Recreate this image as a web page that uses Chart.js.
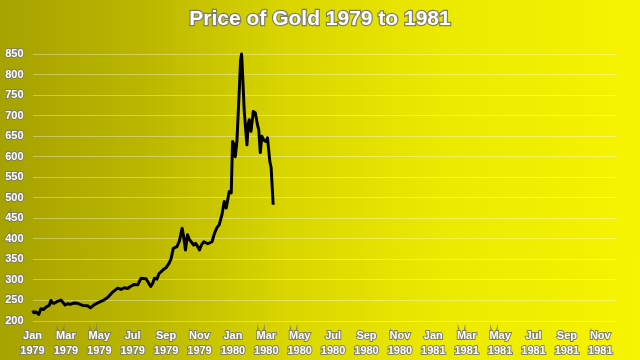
<!DOCTYPE html>
<html>
<head>
<meta charset="utf-8">
<script src="https://cdn.jsdelivr.net/npm/chart.js@4"></script>
<style>
  html, body { margin: 0; padding: 0; }
  body {
    width: 640px; height: 360px; overflow: hidden;
    background: linear-gradient(to right, #a6a200 0%, #bab600 22%, #d9d600 45%, #ebe900 68%, #f6f400 100%);
  }
  #wrap { position: relative; width: 640px; height: 360px; }
</style>
</head>
<body>
<div id="wrap"><canvas id="goldChart" width="640" height="360"></canvas></div>
<script>
// months since Jan 1979 (fractional) and price in USD/oz
var months = [0.0, 0.1, 0.2, 0.37, 0.5, 0.65, 0.85, 1.0, 1.1, 1.2, 1.3, 1.5, 1.7, 1.95, 2.1, 2.3, 2.5, 2.7, 3.0, 3.3, 3.47, 3.7, 4.0, 4.27, 4.5,
  4.76, 5.1, 5.3, 5.5, 5.7, 5.86, 6.1, 6.3, 6.5, 6.8, 7.08, 7.2, 7.3, 7.45, 7.57, 7.8, 8.0, 8.18, 8.3, 8.43, 8.65, 8.8, 8.96, 9.05, 9.16, 9.28, 9.4, 9.5, 9.65, 9.77, 9.9, 10.0,
  10.1, 10.26, 10.5, 10.75, 10.9, 11.05, 11.18, 11.35, 11.48, 11.6, 11.78, 11.9, 11.98, 12.06, 12.14, 12.24, 12.38, 12.46, 12.52, 12.58, 12.68, 12.84, 12.92, 12.98, 13.08,
  13.22, 13.34, 13.47, 13.55, 13.64, 13.73, 13.85, 13.97, 14.07, 14.21, 14.29, 14.41];
var prices = [225, 220, 222, 216, 230, 228, 235, 238, 250, 244, 243, 248, 251, 239, 242, 241, 244, 243, 238, 237, 232, 240, 246, 251, 257,
  269, 280, 277, 281, 279, 284, 289, 288, 304, 303, 284, 292, 304, 302, 315, 324, 330, 341, 352, 377, 381, 395, 426, 405, 373, 410, 398, 393, 385, 389, 380, 373,
  384, 393, 388, 393, 414, 428, 434, 460, 491, 475, 515, 512, 637, 630, 600, 637, 760, 835, 850, 800, 710, 629, 680, 690, 662,
  710, 707, 678, 665, 610, 650, 640, 637, 646, 589, 573, 483];

var monthNames = ["Jan", "Feb", "Mar", "Apr", "May", "Jun", "Jul", "Aug", "Sep", "Oct", "Nov", "Dec"];
var startYear = 1979;
var yTicks = [200, 250, 300, 350, 400, 450, 500, 550, 600, 650, 700, 750, 800, 850];

var points = months.map(function (m, i) { return { x: m, y: prices[i] }; });

// title with outline, drawn on the canvas
var outlinedTitle = {
  id: 'outlinedTitle',
  afterDraw: function (chart) {
    var c = chart.ctx;
    c.save();
    c.font = 'bold 21px "Liberation Sans", Arial, sans-serif';
    c.textAlign = 'center';
    c.textBaseline = 'middle';
    c.lineWidth = 2.5;
    c.strokeStyle = '#808060';
    c.strokeText('Price of Gold 1979 to 1981', 320, 19);
    c.fillStyle = '#ffffff';
    c.fillText('Price of Gold 1979 to 1981', 320, 19);
    c.restore();
  }
};

var ctx = document.getElementById('goldChart').getContext('2d');
var chart = new Chart(ctx, {
  type: 'line',
  data: {
    datasets: [{
      label: 'Gold',
      data: points,
      borderColor: '#000000',
      borderWidth: 3,
      borderJoinStyle: 'round',
      pointRadius: 0,
      tension: 0,
      fill: false,
      clip: false
    }]
  },
  options: {
    responsive: false,
    animation: false,
    layout: { padding: { top: 54, right: 23, bottom: 0, left: 0 } },
    plugins: { legend: { display: false }, tooltip: { enabled: false } },
    scales: {
      x: {
        type: 'linear',
        min: 0,
        max: 35,
        afterFit: function (s) { s.height = 39; },
        afterBuildTicks: function (s) {
          var t = [];
          for (var m = 0; m <= 34; m += 2) t.push({ value: m });
          s.ticks = t;
        },
        grid: { display: false, drawTicks: false },
        border: { display: false },
        ticks: {
          padding: 8,
          maxRotation: 0,
          autoSkip: false,
          color: '#ffffff',
          textStrokeColor: '#808060',
          textStrokeWidth: 2,
          font: { family: '"Liberation Sans", Arial, sans-serif', size: 11, weight: 'bold', lineHeight: 1.35 },
          callback: function (v) {
            return [monthNames[v % 12], String(startYear + Math.floor(v / 12))];
          }
        }
      },
      y: {
        min: 200,
        max: 850,
        afterFit: function (s) { s.width = 32.5; },
        afterBuildTicks: function (s) {
          s.ticks = yTicks.map(function (v) { return { value: v }; });
        },
        grid: { color: 'rgba(255,255,255,0.35)', lineWidth: 1, drawTicks: false },
        border: { display: false },
        ticks: {
          padding: 9,
          autoSkip: false,
          color: '#ffffff',
          textStrokeColor: '#808060',
          textStrokeWidth: 2,
          font: { family: '"Liberation Sans", Arial, sans-serif', size: 11, weight: 'bold' }
        }
      }
    }
  },
  plugins: [outlinedTitle]
});
</script>
</body>
</html>
